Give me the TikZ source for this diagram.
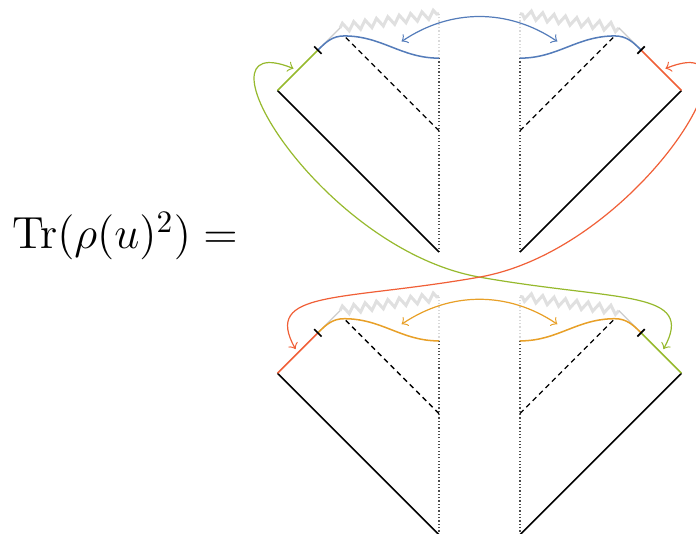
\documentclass[tikz,border=0pt]{standalone}
\usetikzlibrary{decorations.pathmorphing}

\definecolor{bluec}{RGB}{84,124,186}
\definecolor{greenc}{RGB}{150,185,45}
\definecolor{redc}{RGB}{240,95,55}
\definecolor{orangec}{RGB}{232,160,40}

\tikzset{
  edge/.style={black, line width=0.55pt},
  horizon/.style={black, line width=0.45pt, dash pattern=on 1.7pt off 1.3pt},
  axis/.style={black!70, line width=0.5pt, dash pattern=on 0.4pt off 0.7pt},
  axisfaint/.style={black!15, line width=0.5pt, dash pattern=on 0.4pt off 0.7pt},
  sing/.style={black!12, line width=1pt, decorate,
    decoration={zigzag, segment length=3.8pt, amplitude=1.4pt}},
  glue/.style={line width=0.4pt, <->, shorten <=1.5pt, shorten >=1.5pt},
}

% one half of a sheet, drawn on the left; #1 = cut segment, #2 = slice
\newcommand{\halfsheet}[2]{%
  \draw[sing] (-3.45,5.55) -- (-1,5.9);
  \draw[axisfaint] (-1,4.8) -- (-1,5.9);
  \draw[black!20, line width=0.4pt] (-4,5) -- (-3.45,5.55);
  \draw[axis] (-1,0) -- (-1,4.8);
  \draw[horizon] (-1,3) -- (-3.35,5.35);
  \draw[edge] (-1,0) -- (-5,4);
  \draw[#1, line width=0.5pt] (-5,4) -- (-4,5);
  \draw[#2, line width=0.5pt] (-4,5) to[out=45,in=180] (-3.35,5.35)
    to[out=0,in=180] (-1,4.8);
  \draw[edge] (-4,5) ++(135:0.13) -- ++(-45:0.26);
}

\begin{document}
\begin{tikzpicture}[x=0.47cm, y=0.47cm]
  \useasboundingbox (-11.87,-6.96) rectangle (5.36,6.24);

  % left hand side
  \node[anchor=base east, inner sep=0pt, font=\Large, scale=1.035] (lhs)
    at (-5.97,0.09) {$\mathrm{Tr}(\rho(u)^2) =$};

  % upper sheet
  \begin{scope}
    \halfsheet{greenc}{bluec}
  \end{scope}
  \begin{scope}[xscale=-1]
    \halfsheet{redc}{bluec}
  \end{scope}

  % lower sheet
  \begin{scope}[shift={(0,-7)}]
    \halfsheet{redc}{orangec}
  \end{scope}
  \begin{scope}[shift={(0,-7)}, xscale=-1]
    \halfsheet{greenc}{orangec}
  \end{scope}

  % gluing points
  \coordinate (bL) at (-2.02,5.15);
  \coordinate (bR) at (2.02,5.15);
  \coordinate (oL) at (-2.02,-1.85);
  \coordinate (oR) at (2.02,-1.85);
  \coordinate (gtop) at (-4.5,4.5);
  \coordinate (rtop) at (4.5,4.5);
  \coordinate (gbot) at (4.5,-2.5);
  \coordinate (rbot) at (-4.5,-2.5);
  \coordinate (cross) at (0,-0.62);

  % slices glued within a sheet
  \draw[glue, bluec] (bL) to[bend left=34] (bR);
  \draw[glue, orangec] (oL) to[bend left=34] (oR);

  % cuts glued across the sheets
  \draw[glue, greenc] (gtop) .. controls +(158:3) and +(170:4) .. (cross)
    .. controls +(-10:3.5) and +(61:1.8) .. (gbot);
  \draw[glue, redc] (rtop) .. controls +(22:3) and +(10:4) .. (cross)
    .. controls +(190:3.5) and +(119:1.8) .. (rbot);
\end{tikzpicture}
\end{document}
